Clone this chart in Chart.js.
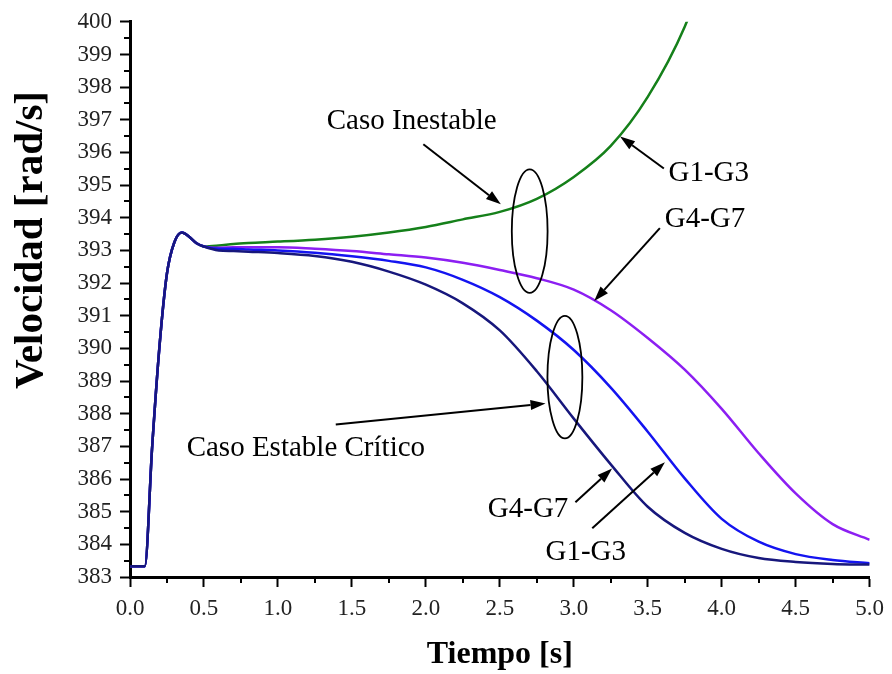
<!DOCTYPE html>
<html lang="es">
<head>
<meta charset="utf-8">
<title>Velocidad vs Tiempo</title>
<script src="https://cdn.jsdelivr.net/npm/chart.js@4.4.1/dist/chart.umd.min.js"></script>
<style>
    html, body { margin: 0; padding: 0; background: #fff; }
    canvas { display: block; }
</style>
</head>
<body>
<canvas id="velChart" width="892" height="674"></canvas>
<script>
// Datos (t en s, velocidad en rad/s)
const tiempo = [0, 0.1, 0.15, 0.2, 0.25, 0.3, 0.35, 0.4, 0.45, 0.5,
    0.6, 0.7, 0.8, 1.0, 1.25, 1.5, 1.75, 2.0, 2.25, 2.5,
    2.75, 3.0, 3.25, 3.5, 3.75, 4.0, 4.25, 4.5, 4.75, 5.0];

// tramo comun hasta t = 0.5 s
const arranque = [383.33, 383.33, 387.0, 390.1, 392.3, 393.25, 393.55, 393.42, 393.22, 393.12];

const inestableG1G3 = [393.15, 393.2, 393.23, 393.27, 393.33, 393.42, 393.55, 393.72, 393.95, 394.18,
    394.58, 395.25, 396.2, 397.7, 399.85, 403.0, null, null, null, null];
const inestableG4G7 = [393.08, 393.1, 393.1, 393.1, 393.05, 392.98, 392.88, 392.78, 392.62, 392.4,
    392.15, 391.8, 391.17, 390.32, 389.35, 388.15, 386.79, 385.56, 384.62, 384.14];
const criticoG1G3 = [393.05, 393.05, 393.03, 393.0, 392.93, 392.82, 392.68, 392.48, 392.1, 391.57,
    390.85, 389.95, 388.8, 387.45, 386.02, 384.78, 384.08, 383.7, 383.52, 383.42];
const criticoG4G7 = [393.0, 392.98, 392.96, 392.92, 392.83, 392.65, 392.35, 391.95, 391.38, 390.55,
    389.3, 387.85, 386.45, 385.15, 384.35, 383.86, 383.58, 383.46, 383.4, 383.38];

const xTicks = [0, 0.5, 1.0, 1.5, 2.0, 2.5, 3.0, 3.5, 4.0, 4.5, 5.0];
const yTicks = [383, 384, 385, 386, 387, 388, 389, 390, 391, 392, 393, 394, 395, 396, 397, 398, 399, 400];

// Anotaciones en coordenadas de datos
const textos = [
    { texto: 'Caso Inestable', t: 1.33, v: 396.73 },
    { texto: 'G1-G3', t: 3.64, v: 395.12 },
    { texto: 'G4-G7', t: 3.615, v: 393.71 },
    { texto: 'Caso Estable Crítico', t: 0.383, v: 386.69 },
    { texto: 'G4-G7', t: 2.419, v: 384.83 },
    { texto: 'G1-G3', t: 2.809, v: 383.52 }
];
const flechas = [
    [[1.983, 396.25], [2.507, 394.41]],
    [[3.609, 395.51], [3.313, 396.49]],
    [[3.582, 393.68], [3.138, 391.45]],
    [[1.391, 387.67], [2.809, 388.31]],
    [[3.011, 385.29], [3.259, 386.32]],
    [[3.125, 384.49], [3.616, 386.51]]
];
const elipses = [
    { t: 2.702, v: 393.59, rt: 0.121, rv: 1.893 },
    { t: 2.940, v: 389.12, rt: 0.118, rv: 1.877 }
];

const puntos = (cola) => arranque.concat(cola)
    .map((v, i) => ({ x: tiempo[i], y: v }))
    .filter(p => p.y !== null);

const serif = '"Liberation Serif", "Times New Roman", serif';

const decoraciones = {
    id: 'decoraciones',
    afterDraw(chart) {
        const { ctx, chartArea: a, scales: { x, y } } = chart;
        ctx.save();
        ctx.strokeStyle = '#000';
        ctx.fillStyle = '#000';

        // 1. ticks menores
        ctx.lineWidth = 2;
        ctx.beginPath();
        for (let t = 0.25; t < 5; t += 0.5) {
            const px = Math.round(x.getPixelForValue(t));
            ctx.moveTo(px, a.bottom);
            ctx.lineTo(px, a.bottom + 6);
        }
        for (let v = 383.5; v < 400; v += 1) {
            const py = Math.round(y.getPixelForValue(v));
            ctx.moveTo(a.left, py);
            ctx.lineTo(a.left - 6, py);
        }
        ctx.stroke();

        // 2. titulos de ejes
        ctx.font = `bold 32px ${serif}`;
        ctx.textAlign = 'center';
        ctx.textBaseline = 'alphabetic';
        ctx.fillText('Tiempo [s]', (a.left + a.right) / 2, 663);

        ctx.save();
        ctx.translate(42, 240);
        ctx.rotate(-Math.PI / 2);
        ctx.font = `bold 41px ${serif}`;
        ctx.fillText('Velocidad [rad/s]', 0, 0);
        ctx.restore();

        // 3. textos de anotacion
        ctx.font = `29px ${serif}`;
        ctx.textAlign = 'left';
        textos.forEach(a2 => {
            ctx.fillText(a2.texto, x.getPixelForValue(a2.t), y.getPixelForValue(a2.v));
        });

        // 4. flechas
        ctx.lineWidth = 2;
        flechas.forEach(([d, h]) => {
            const x0 = x.getPixelForValue(d[0]), y0 = y.getPixelForValue(d[1]);
            const x1 = x.getPixelForValue(h[0]), y1 = y.getPixelForValue(h[1]);
            const ang = Math.atan2(y1 - y0, x1 - x0);
            const len = 15, half = 5;
            const bx = x1 - len * Math.cos(ang), by = y1 - len * Math.sin(ang);
            ctx.beginPath();
            ctx.moveTo(x0, y0);
            ctx.lineTo(bx, by);
            ctx.stroke();
            ctx.beginPath();
            ctx.moveTo(x1, y1);
            ctx.lineTo(bx + half * Math.sin(ang), by - half * Math.cos(ang));
            ctx.lineTo(bx - half * Math.sin(ang), by + half * Math.cos(ang));
            ctx.closePath();
            ctx.fill();
        });

        // 5. elipses
        ctx.lineWidth = 1.8;
        elipses.forEach(e => {
            const cx = x.getPixelForValue(e.t), cy = y.getPixelForValue(e.v);
            const rx = Math.abs(x.getPixelForValue(e.t + e.rt) - cx);
            const ry = Math.abs(y.getPixelForValue(e.v + e.rv) - cy);
            ctx.beginPath();
            ctx.ellipse(cx, cy, rx, ry, 0, 0, Math.PI * 2);
            ctx.stroke();
        });
        ctx.restore();
    }
};

const serie = (data, color) => ({
    data,
    borderColor: color,
    backgroundColor: color,
    borderWidth: 2.5,
    pointRadius: 0,
    fill: false,
    cubicInterpolationMode: 'monotone'
});

new Chart(document.getElementById('velChart').getContext('2d'), {
    type: 'line',
    data: {
        datasets: [
            serie(puntos(criticoG4G7), '#17177c'),
            serie(puntos(criticoG1G3), '#1414f0'),
            serie(puntos(inestableG4G7), '#8c1ff2'),
            serie(puntos(inestableG1G3), '#15801a')
        ]
    },
    options: {
        responsive: false,
        animation: false,
        layout: { padding: { top: 20, right: 18, left: 0, bottom: 0 } },
        plugins: { legend: { display: false }, tooltip: { enabled: false } },
        scales: {
            x: {
                type: 'linear',
                min: 0,
                max: 5,
                afterBuildTicks: s => { s.ticks = xTicks.map(v => ({ value: v })); },
                afterFit: s => { s.height = 97; },
                border: { color: '#000', width: 3 },
                grid: { drawOnChartArea: false, drawTicks: true, tickLength: 10, tickWidth: 2, tickColor: '#000' },
                ticks: {
                    color: '#222',
                    padding: 8,
                    maxRotation: 0,
                    font: { family: serif, size: 23 },
                    callback: v => v.toFixed(1)
                }
            },
            y: {
                min: 383,
                max: 400,
                afterBuildTicks: s => { s.ticks = yTicks.map(v => ({ value: v })); },
                afterFit: s => { s.width = 130; },
                border: { color: '#000', width: 3 },
                grid: { drawOnChartArea: false, drawTicks: true, tickLength: 10, tickWidth: 2, tickColor: '#000' },
                ticks: {
                    color: '#222',
                    padding: 8,
                    font: { family: serif, size: 23 },
                    callback: v => String(v)
                }
            }
        }
    },
    plugins: [decoraciones]
});
</script>
</body>
</html>
